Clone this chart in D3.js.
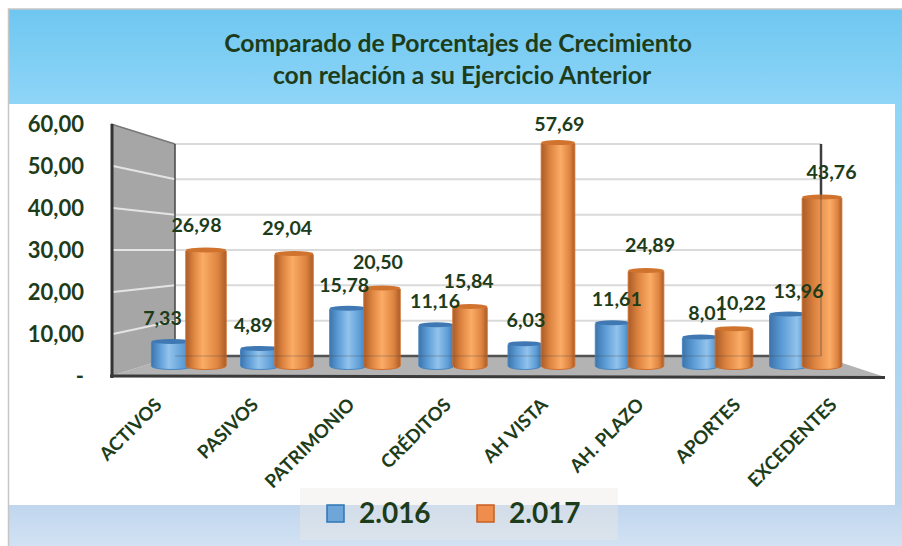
<!DOCTYPE html>
<html><head><meta charset="utf-8">
<script src="https://cdn.jsdelivr.net/npm/d3@7/dist/d3.min.js"></script>
<style>html,body{margin:0;padding:0;background:#fff}svg{display:block}text{font-family:Lato,sans-serif;font-weight:700;fill:#1d3c1a}</style>
</head><body><div id="c"></div>
<script>
const categories = ["ACTIVOS","PASIVOS","PATRIMONIO","CRÉDITOS","AH VISTA","AH. PLAZO","APORTES","EXCEDENTES"];
const values2016 = [7.33,4.89,15.78,11.16,6.03,11.61,8.01,13.96];
const values2017 = [26.98,29.04,20.50,15.84,57.69,24.89,10.22,43.76];
// Bar heights: the first orange bar is drawn taller than its label says.
const drawn2016 = [7.33,5.6,15.78,11.6,6.8,12.1,8.5,14.3];
const drawn2017 = [30.5,29.6,20.9,16.2,57.69,25.3,10.6,43.9];
const yTicks = [0,10,20,30,40,50,60];
const series = ["2.016","2.017"];
const titleLines = ["Comparado de Porcentajes de Crecimiento","con relación a su Ejercicio Anterior"];

const W=902,H=546;
const svg=d3.select("#c").append("svg").attr("width",W).attr("height",H);
const defs=svg.append("defs");
function vgrad(id,a,b){const g=defs.append("linearGradient").attr("id",id).attr("x1",0).attr("x2",0).attr("y1",0).attr("y2",1);
 g.append("stop").attr("offset",0).attr("stop-color",a);g.append("stop").attr("offset",1).attr("stop-color",b);}
vgrad("band","#6ec7f0","#8fd5f8");vgrad("strip","#8fd5f8","#bcd5ee");vgrad("foot","#bfd6ee","#d2e2f3");

// background
svg.append("rect").attr("x",8).attr("y",9).attr("width",894).attr("height",95).attr("fill","url(#band)");
svg.append("rect").attr("x",895).attr("y",104).attr("width",7).attr("height",401).attr("fill","url(#strip)");
svg.append("rect").attr("x",8).attr("y",505).attr("width",894).attr("height",41).attr("fill","url(#foot)");
svg.append("path").attr("d","M8.5,546V9H902").attr("fill","none").attr("stroke","#c6c6c6").attr("stroke-width",1.5);

// title
svg.selectAll("text.title").data(titleLines).join("text").attr("class","title")
 .attr("x",(d,i)=>i?462:458).attr("y",(d,i)=>i?84:52).attr("text-anchor","middle").attr("font-size",24.7).text(d=>d);

// scales
const yFront=d3.scaleLinear().domain([0,60]).range([376,124]);
const yBack=d3.scaleLinear().domain([0,60]).range([356,144]);
const yBar=d3.scaleLinear().domain([0,60]).range([368,131]);
const xBlue=d3.scaleLinear().domain([0,7]).range([172,789]);
const xOrange=d3.scaleLinear().domain([0,7]).range([206,822]);
const xLabelEnd=d3.scaleLinear().domain([0,7]).range([163,838]);
const labelShift=d3.scaleLinear().domain([0,7]).range([-9.5,9.5]);
const barW=d3.scaleLinear().domain([0,350]).range([33,41]);
const wallL=111,wallR=175,backR=821,frontR=885;

// back wall grid
const ticksUp=yTicks.filter(d=>d>0);
svg.selectAll("line.g").data(ticksUp).join("line").attr("class","g")
 .attr("x1",wallR).attr("x2",backR).attr("y1",d=>yBack(d)).attr("y2",d=>yBack(d))
 .attr("stroke","#dadada").attr("stroke-width",2);
// floor
svg.append("polygon").attr("points",[[wallL,yFront(0)],[wallR,yBack(0)],[backR,yBack(0)],[frontR,yFront(0)+1]].join(" ")).attr("fill","#b3b3b3");
svg.append("line").attr("x1",wallR).attr("x2",backR).attr("y1",yBack(0)).attr("y2",yBack(0)).attr("stroke","#555").attr("stroke-width",2.5);
// left wall
svg.append("polygon").attr("points",[[wallL,yFront(60)],[wallR,yBack(60)],[wallR,yBack(0)],[wallL,yFront(0)]].join(" ")).attr("fill","#a6a6a6");
svg.selectAll("line.w").data(ticksUp.filter(d=>d<60)).join("line").attr("class","w")
 .attr("x1",wallL+2).attr("x2",wallR).attr("y1",d=>yFront(d)).attr("y2",d=>yBack(d))
 .attr("stroke","#e4e4e4").attr("stroke-width",2);
svg.append("line").attr("x1",wallL).attr("x2",wallR).attr("y1",yFront(60)).attr("y2",yBack(60)).attr("stroke","#777").attr("stroke-width",1.5);
svg.append("line").attr("x1",wallR).attr("x2",wallR).attr("y1",yBack(60)).attr("y2",yBack(0)).attr("stroke","#444").attr("stroke-width",1.5);
svg.append("line").attr("x1",wallL+1).attr("x2",wallL+1).attr("y1",yFront(60)).attr("y2",yFront(0)+2).attr("stroke","#333").attr("stroke-width",3);
svg.append("line").attr("x1",backR).attr("x2",backR).attr("y1",yBack(60)).attr("y2",yBack(0)).attr("stroke","#3c3c3c").attr("stroke-width",2.5);
svg.append("line").attr("x1",wallL-1).attr("x2",frontR).attr("y1",yFront(0)).attr("y2",yFront(0)+1.5).attr("stroke","#3a3a3a").attr("stroke-width",3);

// bars
const pal=[{dark:"#3d74ab",mid:"#5b9bd5",light:"#92c3ec",cap:"#3f78b3",edge:"#4a86c0"},
           {dark:"#a95c28",mid:"#dd8340",light:"#fbac66",cap:"#d0732f",edge:"#cf6f2e"}];
function grad(id,p,h){const g=defs.append("linearGradient").attr("id",id);
 [[0,p.dark],[h*.45,p.mid],[h,p.light],[h+(1-h)*.65,p.mid],[1,p.dark]].forEach(s=>g.append("stop").attr("offset",s[0]).attr("stop-color",s[1]));}
function cyl(cls,vals,labels,xs,p){
 const rx=d=>d.w/2, ry=3.5;
 const data=vals.map((v,i)=>({v,i,lab:labels[i],cx:xs(i),w:barW(Math.abs(xs(i)-530)),top:yBar(v)}));
 data.forEach(d=>grad(cls+d.i,p,.42+.04*d.i));
 const g=svg.append("g").selectAll("g").data(data).join("g");
 g.append("path").attr("d",d=>`M${d.cx-rx(d)},${d.top+ry}V${yBar(0)-2}A${rx(d)},${ry},0,0,0,${d.cx+rx(d)},${yBar(0)-2}V${d.top+ry}Z`)
  .attr("fill",d=>`url(#${cls}${d.i})`).attr("stroke",p.edge).attr("stroke-width",1);
 g.append("ellipse").attr("cx",d=>d.cx).attr("cy",d=>d.top+ry-1).attr("rx",rx).attr("ry",ry-1).attr("fill",p.cap);
 return data;
}
const dataA=cyl("a",drawn2016,values2016,xBlue,pal[0]);
const dataB=cyl("b",drawn2017,values2017,xOrange,pal[1]);
// back lines showing through the translucent bars
svg.append("line").attr("x1",wallR).attr("x2",backR).attr("y1",yBack(0)).attr("y2",yBack(0)).attr("stroke","#444").attr("stroke-width",1.5).attr("opacity",.22);
svg.append("line").attr("x1",backR).attr("x2",backR).attr("y1",yBack(60)).attr("y2",yBack(0)).attr("stroke","#444").attr("stroke-width",1.5).attr("opacity",.4);

// value labels
const fmt=v=>d3.format(".2f")(v).replace(".",",");
function vlabels(data,off){svg.append("g").selectAll("text").data(data).join("text")
 .attr("x",d=>d.cx+labelShift(d.i)).attr("y",d=>Math.max(d.top-off,131)).attr("text-anchor","middle").attr("font-size",19.6).text(d=>fmt(d.lab));}
vlabels(dataA,14);vlabels(dataB,16);

// y ticks
svg.append("g").selectAll("text").data(yTicks).join("text")
 .attr("x",84).attr("y",d=>yFront(d)+8).attr("text-anchor","end").attr("font-size",22)
 .text(d=>d===0?"-":fmt(d));

// category labels
svg.append("g").selectAll("text").data(categories).join("text")
 .attr("text-anchor","end").attr("font-size",18.5)
 .attr("transform",(d,i)=>`translate(${xLabelEnd(i)},${406}) rotate(-45)`).text(d=>d);

// legend
svg.append("rect").attr("x",300).attr("y",488).attr("width",318).attr("height",52).attr("fill","#eee8e4").attr("opacity",.4);
const legX=d3.scaleOrdinal().domain(series).range([327,477]);
const leg=svg.append("g").selectAll("g").data(series).join("g");
leg.append("rect").attr("x",d=>legX(d)).attr("y",505).attr("width",17).attr("height",17)
 .attr("fill",(d,i)=>i?"#ee8d4c":"#6ea6da").attr("stroke",(d,i)=>i?"#c85f22":"#2e75b6").attr("stroke-width",1.5);
leg.append("text").attr("x",d=>legX(d)+32).attr("y",523).attr("font-size",28).text(d=>d);
</script></body></html>
